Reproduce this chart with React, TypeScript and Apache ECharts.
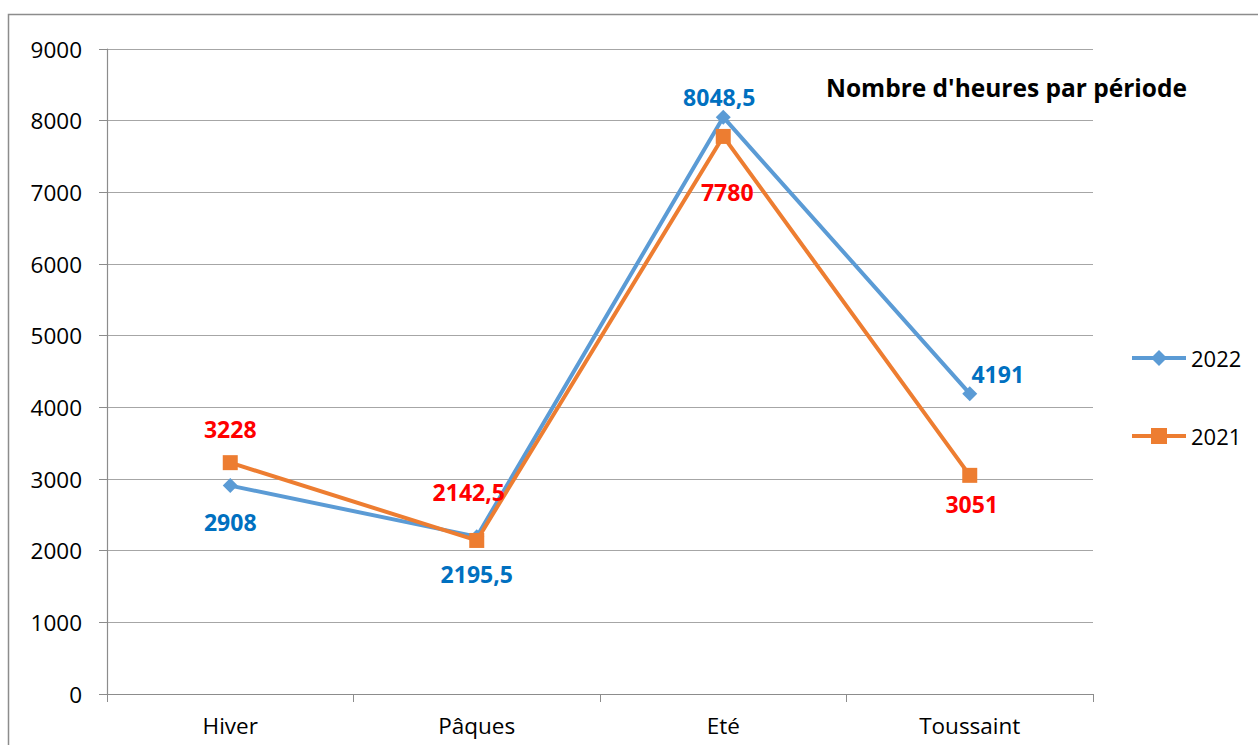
import React, { useEffect, useRef } from "react";
import * as echarts from "echarts";

const categories = ["Hiver", "Pâques", "Eté", "Toussaint"];
const values2022 = [2908, 2195.5, 8048.5, 4191];
const values2021 = [3228, 2142.5, 7780, 3051];
const labelOffsets2022: [number, number][] = [[0, 36], [0, 37], [-4, -20], [28, -20]];
const labelOffsets2021: [number, number][] = [[0, -34], [-8, -48], [4, 56], [2, 29]];

const FONT = "'Open Sans', sans-serif";
const fmt = (v: number) => String(v).replace(".", ",");

export default function App() {
  const ref = useRef<HTMLDivElement>(null);
  useEffect(() => {
    if (!ref.current) return;
    const chart = echarts.init(ref.current, undefined, { renderer: "svg" });
    const mk = (vals: number[], offs: [number, number][], color: string) =>
      vals.map((v, i) => ({
        value: v,
        label: { show: true, position: "inside", offset: offs[i], formatter: fmt(v), color, fontWeight: "bold", fontSize: 23, fontFamily: FONT },
      }));
    const legendCommon = {
      left: 1130,
      padding: 0,
      itemWidth: 54,
      itemHeight: 20,
      lineStyle: { width: 4 },
      textStyle: { fontSize: 22, color: "#000", fontFamily: FONT, lineHeight: 22 },
    };
    chart.setOption({
      animation: false,
      backgroundColor: "#ffffff",
      textStyle: { fontFamily: FONT },
      title: {
        text: "Nombre d'heures par période",
        left: 826,
        top: 75,
        padding: 0,
        textStyle: { fontSize: 24.5, fontWeight: "bold", color: "#000", fontFamily: FONT },
      },
      graphic: [
        {
          type: "rect",
          shape: { x: 8.5, y: 14.5, width: 1300, height: 800 },
          style: { fill: "none", stroke: "#8c8c8c", lineWidth: 1.5 },
          silent: true,
        },
      ],
      legend: [
        { ...legendCommon, data: ["2022"], top: 347 },
        { ...legendCommon, data: ["2021"], top: 425 },
      ],
      grid: { left: 107, right: 165, top: 49, bottom: 51 },
      xAxis: {
        type: "category",
        data: categories,
        boundaryGap: true,
        axisLine: { lineStyle: { color: "#8c8c8c", width: 1.2 } },
        axisTick: { show: true, length: 8, inside: false, alignWithLabel: false, lineStyle: { color: "#8c8c8c" } },
        axisLabel: { fontSize: 22.5, color: "#000", margin: 20, fontFamily: FONT },
      },
      yAxis: {
        type: "value",
        min: 0,
        max: 9000,
        interval: 1000,
        axisLine: { show: true, lineStyle: { color: "#8c8c8c", width: 1.2 } },
        axisTick: { show: true, length: 8, inside: false, lineStyle: { color: "#8c8c8c" } },
        axisLabel: { fontSize: 22.5, color: "#000", margin: 25, fontFamily: FONT, formatter: (v: number) => String(v) },
        splitLine: { show: true, lineStyle: { color: "#a6a6a6", width: 1.2 } },
      },
      series: [
        {
          name: "2022",
          type: "line",
          data: mk(values2022, labelOffsets2022, "#0070C0"),
          symbol: "diamond",
          symbolSize: 15,
          lineStyle: { color: "#5B9BD5", width: 4 },
          itemStyle: { color: "#5B9BD5" },
          z: 2,
        },
        {
          name: "2021",
          type: "line",
          data: mk(values2021, labelOffsets2021, "#FF0000"),
          symbol: "rect",
          symbolSize: 15,
          lineStyle: { color: "#ED7D31", width: 4 },
          itemStyle: { color: "#ED7D31" },
          z: 3,
        },
      ],
    });
    return () => chart.dispose();
  }, []);
  return <div ref={ref} style={{ position: "absolute", left: 0, top: 0, width: 1258, height: 745 }} />;
}
